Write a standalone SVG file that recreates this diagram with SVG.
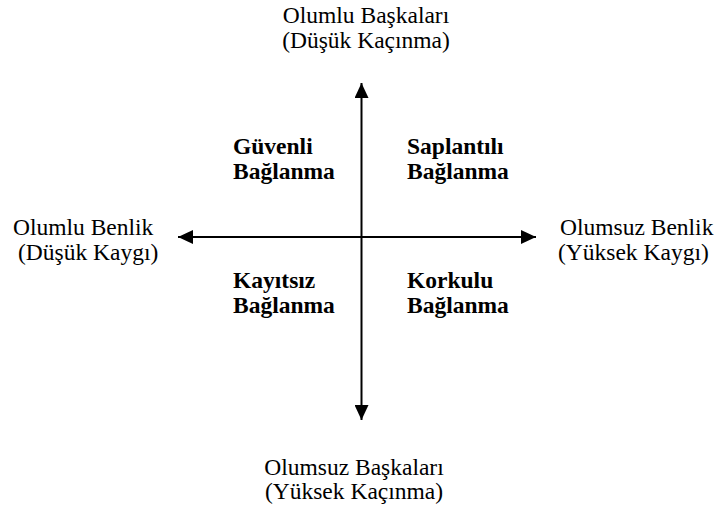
<svg xmlns="http://www.w3.org/2000/svg" width="720" height="514" viewBox="0 0 720 514">
<style>
text{font-family:"Liberation Serif","Times New Roman",serif;font-size:23.5px;fill:#000}
.b{font-weight:bold}
.ax{stroke:#000;stroke-width:2;fill:none}
</style>
<defs>
<marker id="ah" markerWidth="16" markerHeight="14" refX="15" refY="7" orient="auto" markerUnits="userSpaceOnUse">
<path d="M0,0 L15,7 L0,14 Z" fill="#000"/>
</marker>
</defs>
<rect width="720" height="514" fill="#fff"/>
<g id="connectors">
<line class="ax" x1="361.5" y1="237" x2="361.5" y2="83" marker-end="url(#ah)"/>
<line class="ax" x1="361.5" y1="237" x2="361.5" y2="420" marker-end="url(#ah)"/>
<line class="ax" x1="361.5" y1="237" x2="178" y2="237" marker-end="url(#ah)"/>
<line class="ax" x1="361.5" y1="237" x2="536" y2="237" marker-end="url(#ah)"/>
</g>
<g id="top">
<text x="366" y="23" text-anchor="middle">Olumlu Başkaları</text>
<text x="366" y="48" text-anchor="middle">(Düşük Kaçınma)</text>
</g>
<g id="bottom">
<text x="354" y="475" text-anchor="middle">Olumsuz Başkaları</text>
<text x="354" y="499" text-anchor="middle">(Yüksek Kaçınma)</text>
</g>
<g id="left">
<text x="13" y="235">Olumlu Benlik</text>
<text x="18" y="260">(Düşük Kaygı)</text>
</g>
<g id="right">
<text x="560" y="235">Olumsuz Benlik</text>
<text x="558" y="260">(Yüksek Kaygı)</text>
</g>
<g id="guvenli">
<text class="b" x="233" y="154">Güvenli</text>
<text class="b" x="233" y="179">Bağlanma</text>
</g>
<g id="saplantili">
<text class="b" x="407" y="154">Saplantılı</text>
<text class="b" x="407" y="179">Bağlanma</text>
</g>
<g id="kayitsiz">
<text class="b" x="233" y="288">Kayıtsız</text>
<text class="b" x="233" y="313">Bağlanma</text>
</g>
<g id="korkulu">
<text class="b" x="407" y="288">Korkulu</text>
<text class="b" x="407" y="313">Bağlanma</text>
</g>
</svg>
